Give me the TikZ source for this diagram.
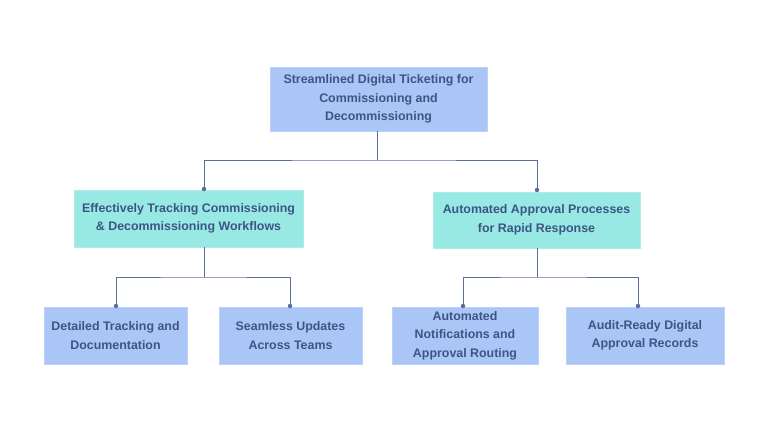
\documentclass[tikz,border=0pt]{standalone}
\usepackage{fontspec}
\setmainfont{Liberation Sans}
\begin{document}
\begin{tikzpicture}[x=1pt,y=-1pt,
  txt/.style={font=\bfseries\fontsize{12.4}{18.5}\selectfont, text=textc, align=center},
  bluebox/.style={fill=boxblue, draw=boxblue!80!white, line width=0.6pt},
  tealbox/.style={fill=boxteal, draw=boxteal!80!white, line width=0.6pt},
  conn/.style={draw=linec, line width=1pt},
  dot/.style={circle, fill=linec, inner sep=0pt, minimum size=4.5pt}]
\definecolor{boxblue}{HTML}{AAC6F6}
\definecolor{boxteal}{HTML}{98E9E3}
\definecolor{textc}{HTML}{3D5585}
\definecolor{linec}{HTML}{5A6E9E}
\useasboundingbox (0,0) rectangle (768,432);
% boxes
\path[bluebox] (270,67) rectangle (487,131);
\node[txt] (root) at (378.5,99) {Streamlined Digital Ticketing for\\Commissioning and\\Decommissioning};
\path[tealbox] (74,190) rectangle (303,247);
\node[txt] (m1) at (188.5,218.5) {Effectively Tracking Commissioning\\\& Decommissioning Workflows};
\path[tealbox] (433,192) rectangle (640,248);
\node[txt] (m2) at (536.5,220) {Automated Approval Processes\\for Rapid Response};
\path[bluebox] (44,307) rectangle (187,364);
\node[txt] (b1) at (115.5,335.5) {Detailed Tracking and\\Documentation};
\path[bluebox] (219,307) rectangle (362,364);
\node[txt] (b2) at (290.5,335.5) {Seamless Updates\\Across Teams};
\path[bluebox] (392,307) rectangle (538,364);
\node[txt] (b3) at (465,335.5) {Automated\\Notifications and\\Approval Routing};
\path[bluebox] (566,307) rectangle (724,364);
\node[txt] (b4) at (645,335.5) {Audit-Ready Digital\\Approval Records};
% connector coordinates
\coordinate (r0) at (377,131);
\coordinate (rh) at (377,160);
\coordinate (c1) at (204,189);
\coordinate (c2) at (537,190);
\coordinate (m1b) at (204,247);
\coordinate (m2b) at (537,248);
\coordinate (d1) at (116,306);
\coordinate (d2) at (290,306);
\coordinate (d3) at (463,306);
\coordinate (d4) at (638,306);
\draw[conn] (r0) -- (rh) (c1) |- (rh) -| (c2);
\draw[conn] (m1b) -- (204,277) (d1) |- (204,277) -| (d2);
\draw[conn] (m2b) -- (537,277) (d3) |- (537,277) -| (d4);
\foreach \p in {c1,c2,d1,d2,d3,d4} \node[dot] at (\p) {};
\end{tikzpicture}
\end{document}
